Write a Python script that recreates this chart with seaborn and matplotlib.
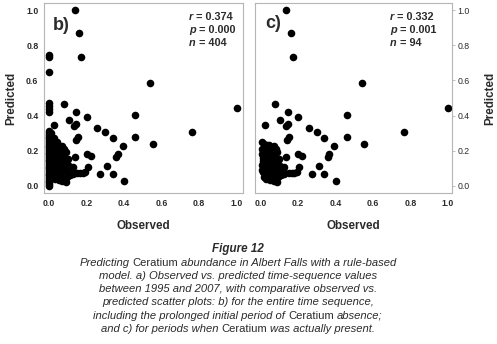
import matplotlib
matplotlib.use("Agg")
import matplotlib.pyplot as plt
import seaborn as sns
import pandas as pd

# ========================================================
# Data
# ========================================================
# periods with Ceratium present (panel c, also in panel b)
present_obs = [0.137, 0.161, 0.172, 0.539, 1.000, 0.078, 0.025, 0.145, 0.106, 0.134,
               0.144, 0.200, 0.256, 0.300, 0.338, 0.459, 0.459, 0.764, 0.552, 0.392,
               0.358, 0.366, 0.202, 0.222, 0.205, 0.310, 0.272, 0.341, 0.401, 0.138,
               0.143, 0.152, 0.150, 0.165, 0.180, 0.192, 0.125,
               0.010, 0.020, 0.032, 0.045, 0.070, 0.080, 0.050, 0.062, 0.040, 0.020,
               0.010, 0.015, 0.030, 0.050, 0.070, 0.090, 0.100, 0.110, 0.120, 0.010,
               0.020, 0.030, 0.040, 0.005, 0.015, 0.025, 0.040, 0.060, 0.070, 0.080,
               0.090, 0.100, 0.110, 0.020, 0.030, 0.050, 0.060, 0.080, 0.090, 0.070,
               0.040, 0.060, 0.085, 0.100, 0.075, 0.045, 0.035, 0.055, 0.095, 0.115,
               0.125, 0.015, 0.025, 0.050, 0.087, 0.065, 0.008]
present_pred = [1.000, 0.871, 0.731, 0.587, 0.445, 0.466, 0.347, 0.419, 0.373, 0.340,
                0.352, 0.390, 0.331, 0.305, 0.271, 0.403, 0.280, 0.305, 0.239, 0.228,
                0.167, 0.180, 0.180, 0.172, 0.108, 0.113, 0.068, 0.068, 0.030, 0.163,
                0.262, 0.276, 0.072, 0.075, 0.075, 0.080, 0.068,
                0.250, 0.240, 0.235, 0.232, 0.225, 0.210, 0.190, 0.175, 0.200, 0.200,
                0.180, 0.160, 0.150, 0.140, 0.150, 0.140, 0.120, 0.100, 0.090, 0.120,
                0.110, 0.100, 0.090, 0.090, 0.080, 0.070, 0.060, 0.070, 0.080, 0.100,
                0.090, 0.070, 0.060, 0.050, 0.040, 0.035, 0.050, 0.040, 0.020, 0.030,
                0.120, 0.110, 0.120, 0.155, 0.175, 0.165, 0.130, 0.085, 0.050, 0.080,
                0.110, 0.140, 0.180, 0.215, 0.195, 0.125, 0.210]

# initial period of Ceratium absence (panel b only)
absent_obs = [0.0] * 39 + [0.010, 0.020, 0.030, 0.040, 0.012, 0.025]
absent_pred = [0.00, 0.01, 0.02, 0.03, 0.04, 0.05, 0.06, 0.07, 0.08, 0.09,
               0.10, 0.11, 0.12, 0.13, 0.14, 0.15, 0.16, 0.17, 0.18, 0.19,
               0.20, 0.21, 0.22, 0.23, 0.24, 0.25, 0.26, 0.27, 0.28, 0.29,
               0.30, 0.31, 0.420, 0.440, 0.455, 0.470, 0.650, 0.735, 0.745,
               0.280, 0.260, 0.220, 0.250, 0.300, 0.270]

stats_b = [("r", "0.374"), ("p", "0.000"), ("n", "404")]
stats_c = [("r", "0.332"), ("p", "0.001"), ("n", "94")]
ticks = [0.0, 0.2, 0.4, 0.6, 0.8, 1.0]
tick_labels = ["0.0", "0.2", "0.4", "0.6", "0.8", "1.0"]

df_c = pd.DataFrame({"obs": present_obs, "pred": present_pred})
df_b = pd.concat([df_c, pd.DataFrame({"obs": absent_obs, "pred": absent_pred})],
                 ignore_index=True)

# ========================================================
# Style
# ========================================================
sns.set_style("white")
plt.rcParams["font.family"] = ["Liberation Sans", "DejaVu Sans"]

W, H, DPI = 497, 344, 100
TXT = "#2b2b2b"
GRID = "#b5b5b5"

fig = plt.figure(figsize=(W / DPI, H / DPI), dpi=DPI)
fig.patch.set_facecolor("white")


def px(x, y):
    return x / W, 1 - y / H


ax_b = fig.add_axes([44 / W, 1 - 193 / H, 199 / W, 190 / H])
ax_c = fig.add_axes([255 / W, 1 - 193 / H, 197 / W, 190 / H])

for ax, df in [(ax_b, df_b), (ax_c, df_c)]:
    sns.scatterplot(data=df, x="obs", y="pred", ax=ax, color="black",
                    s=30, linewidth=0, legend=False)
    ax.set_xticks(ticks)
    ax.set_xticklabels(tick_labels)
    ax.set_yticks(ticks)
    ax.set_yticklabels(tick_labels)
    ax.set_ylim(-0.04, 1.04)
    ax.tick_params(axis="both", length=2, width=0.6, color=GRID, pad=2,
                   labelsize=6.3, labelcolor=TXT)
    for lab in ax.get_xticklabels() + ax.get_yticklabels():
        lab.set_fontweight("bold")
    for sp in ax.spines.values():
        sp.set_color(GRID)
        sp.set_linewidth(0.8)
    ax.set_xlabel("Observed", fontsize=8.4, fontweight="bold", color=TXT)
    ax.set_ylabel("Predicted", fontsize=8.4, fontweight="bold", color=TXT)
    ax.xaxis.set_label_coords(0.5, -0.14)

ax_b.set_xlim(-0.028, 1.034)
ax_c.set_xlim(-0.030, 1.022)
ax_b.yaxis.set_label_coords(-0.135, 0.5)
ax_c.yaxis.tick_right()
ax_c.yaxis.set_label_position("right")
ax_c.yaxis.set_label_coords(1.165, 0.5)
ax_c.tick_params(axis="y", left=False, right=True)

# ========================================================
# Texts
# ========================================================
renderer = fig.canvas.get_renderer()


def draw_parts(x, y, parts, size, weight="normal", align="center"):
    # parts: list of (text, italic); joined by one space
    objs = []
    for s, it in parts:
        t = fig.text(0, 0, s, fontsize=size, fontweight=weight,
                     style="italic" if it else "normal",
                     ha="left", va="center", color=TXT)
        objs.append(t)
    sp = size * DPI / 72 * 0.278
    widths = [t.get_window_extent(renderer).width for t in objs]
    total = sum(widths) + sp * (len(objs) - 1)
    cur = x - total / 2 if align == "center" else x
    for t, w in zip(objs, widths):
        t.set_position(px(cur, y))
        cur += w + sp


fig.text(*px(53, 25), "b)", fontsize=13, fontweight="bold", color=TXT,
         ha="left", va="center")
fig.text(*px(265, 24), "c)", fontsize=13, fontweight="bold", color=TXT,
         ha="left", va="center")

for i, (k, v) in enumerate(stats_b):
    draw_parts(189, 17 + 12.8 * i, [(k, True), ("= " + v, False)], 7.8,
               weight="bold", align="left")
for i, (k, v) in enumerate(stats_c):
    draw_parts(390, 17 + 12.8 * i, [(k, True), ("= " + v, False)], 7.8,
               weight="bold", align="left")

CX = 238
draw_parts(CX, 249, [("Figure 12", True)], 8.4, weight="bold")
caption = [
    [("Predicting", True), ("Ceratium", False),
     ("abundance in Albert Falls with a rule-based", True)],
    [("model. a) Observed vs. predicted time-sequence values", True)],
    [("between 1995 and 2007, with comparative observed vs.", True)],
    [("predicted scatter plots: b) for the entire time sequence,", True)],
    [("including the prolonged initial period of", True), ("Ceratium", False),
     ("absence;", True)],
    [("and c) for periods when", True), ("Ceratium", False),
     ("was actually present.", True)],
]
line_y = [262.7, 275.9, 289.1, 302.3, 315.6, 328.8]
for y, parts in zip(line_y, caption):
    draw_parts(CX, y, parts, 8.1)

fig.savefig("out.png", dpi=DPI)
